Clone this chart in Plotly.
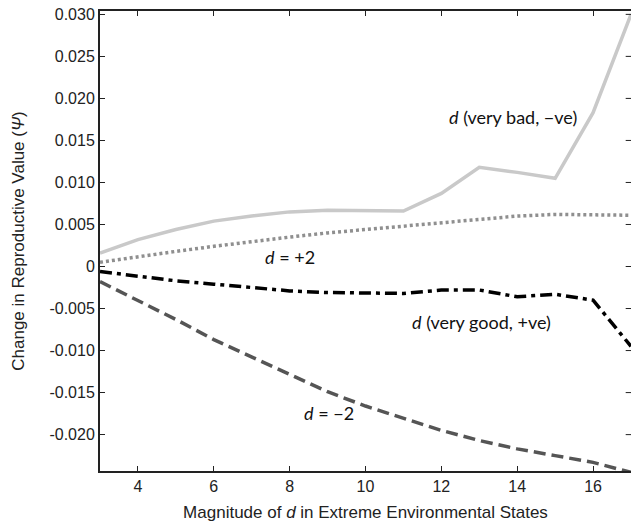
import plotly.graph_objects as go

x_vals = [3, 4, 5, 6, 7, 8, 9, 10, 11, 12, 13, 14, 15, 16, 17]
very_bad = [0.0016, 0.0032, 0.0044, 0.0054, 0.0060, 0.0065, 0.0067, 0.0066, 0.0066,
            0.0087, 0.0118, 0.0112, 0.0105, 0.0183, 0.0300]
d_plus2 = [0.0005, 0.0012, 0.0018, 0.0024, 0.0030, 0.0035, 0.0040, 0.0044, 0.0048,
           0.0052, 0.0056, 0.0060, 0.0062, 0.0061, 0.0061]
very_good = [-0.0006, -0.0012, -0.0017, -0.0021, -0.0025, -0.0029, -0.0031, -0.0032, -0.0032,
             -0.0028, -0.0028, -0.0036, -0.0033, -0.0040, -0.0095]
d_minus2 = [-0.0018, -0.0040, -0.0063, -0.0087, -0.0108, -0.0129, -0.0149, -0.0166, -0.0181,
            -0.0195, -0.0207, -0.0217, -0.0225, -0.0233, -0.0245]

y_tickvals = [0.030, 0.025, 0.020, 0.015, 0.010, 0.005, 0.0, -0.005, -0.010, -0.015, -0.020]
y_ticktext = ["0.030", "0.025", "0.020", "0.015", "0.010", "0.005", "0", "-0.005", "-0.010", "-0.015", "-0.020"]
x_tickvals = [4, 6, 8, 10, 12, 14, 16]

fig = go.Figure()
fig.add_trace(go.Scatter(x=x_vals, y=very_bad, mode="lines",
                         line=dict(color="#c9c9c9", width=3.5)))
fig.add_trace(go.Scatter(x=x_vals, y=d_plus2, mode="lines",
                         line=dict(color="#8f8f8f", width=3.5, dash="3px,3px")))
fig.add_trace(go.Scatter(x=x_vals, y=very_good, mode="lines",
                         line=dict(color="#000000", width=3.5, dash="12px,5px,4px,5px")))
fig.add_trace(go.Scatter(x=x_vals, y=d_minus2, mode="lines",
                         line=dict(color="#555555", width=3.5, dash="12px,6px")))

tick_font = dict(family="Liberation Sans, Arial, sans-serif", size=16, color="#222")
title_font = dict(family="Liberation Sans, Arial, sans-serif", size=17, color="#222")
fig.update_layout(
    width=631, height=529,
    margin=dict(l=100, r=0, t=11, b=58, autoexpand=False),
    paper_bgcolor="white", plot_bgcolor="white",
    showlegend=False,
    font=tick_font,
    xaxis=dict(range=[3, 17], tickvals=x_tickvals, ticks="inside", ticklen=5,
               tickcolor="#222", tickwidth=1, showline=True, linecolor="#222",
               linewidth=2, mirror="ticks", showgrid=False, zeroline=False,
               tickfont=tick_font, automargin=False,
               title=dict(text="Magnitude of <i>d</i> in Extreme Environmental States",
                          font=title_font, standoff=12)),
    yaxis=dict(range=[-0.02433, 0.0304], tickvals=y_tickvals, ticktext=y_ticktext,
               ticks="inside", ticklen=5, tickcolor="#222", tickwidth=1,
               showline=True, linecolor="#222", linewidth=2, showgrid=False,
               zeroline=False, tickfont=tick_font, automargin=False,
               title=dict(text="Change in Reproductive Value (<i>Ψ</i>)",
                          font=title_font, standoff=20)),
)

# mirrored right-side ticks (no right spine in the reference)
for v in y_tickvals:
    fig.add_shape(type="line", xref="paper", yref="y", x0=1.0, x1=0.99, y0=v, y1=v,
                  line=dict(color="#222", width=1))

ann_font = dict(family="Lato, Open Sans, sans-serif", size=18, color="#111")
annotations = [
    dict(x=13.9, y=0.0178, text="<i>d</i> (very bad, −ve)"),
    dict(x=8.0, y=0.00115, text="<i>d</i> = +2"),
    dict(x=13.05, y=-0.00665, text="<i>d</i> (very good, +ve)"),
    dict(x=9.05, y=-0.01745, text="<i>d</i> = −2"),
]
for a in annotations:
    fig.add_annotation(x=a["x"], y=a["y"], text=a["text"], showarrow=False,
                       xref="x", yref="y", font=ann_font)

fig.write_html("out.html", config={"displayModeBar": False},
               post_script="document.body.style.margin='0';document.body.style.overflow='hidden';")
